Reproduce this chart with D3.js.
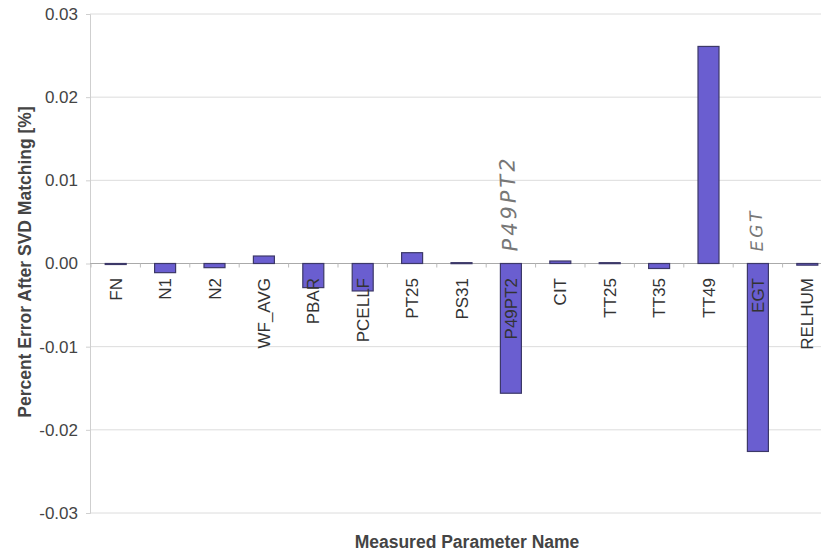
<!DOCTYPE html>
<html><head><meta charset="utf-8">
<script src="https://cdn.jsdelivr.net/npm/d3@7"></script>
<style>body{margin:0;background:#fff}svg{display:block}</style>
</head><body><svg id="c" width="821" height="554"></svg>
<script>
const categories = ["FN","N1","N2","WF_AVG","PBAR","PCELLF","PT25","PS31","P49PT2","CIT","TT25","TT35","TT49","EGT","RELHUM"];
const values = [-0.00005,-0.0011,-0.0005,0.0009,-0.0029,-0.0033,0.0013,0.0001,-0.0156,0.0003,0.0001,-0.0006,0.0261,-0.0226,-0.0002];
const yTicks = [-0.03,-0.02,-0.01,0,0.01,0.02,0.03];
const annotations = [{cat:"P49PT2", text:"P49PT2"},{cat:"EGT", text:"EGT"}];

const svg = d3.select("#c");
const x = d3.scaleBand().domain(categories).range([91, 832]).paddingInner(0.575).paddingOuter(0.2875);
const y = d3.scaleLinear().domain([-0.03, 0.03]).range([513, 14]);
const font = "'Liberation Sans', Arial, sans-serif";
const fmt = d => d3.format(".2f")(d).replace("\u2212", "-");

// gridlines
svg.append("g").selectAll("line").data(yTicks).join("line")
  .attr("x1", 90).attr("x2", 821).attr("y1", d => y(d)).attr("y2", d => y(d))
  .attr("stroke", "#dcdcdc").attr("stroke-width", 1);
// left axis
const ya = svg.append("g").attr("transform", "translate(90,0)")
  .call(d3.axisLeft(y).tickValues(yTicks).tickFormat(fmt).tickSize(4).tickPadding(8));
ya.select(".domain").attr("stroke", "#cfcfcf");
ya.selectAll(".tick line").attr("stroke", "#cfcfcf");
ya.selectAll("text").attr("font-family", font).attr("font-size", 17).attr("fill", "#444");

// zero axis with boundary ticks
const xa = svg.append("g").attr("transform", `translate(0,${y(0)})`);
xa.append("line").attr("x1", 90).attr("x2", 821).attr("stroke", "#aaa");
xa.selectAll(".bt").data(categories).join("line").attr("class","bt")
  .attr("x1", d => x(d) - x.step()*x.paddingInner()/2).attr("x2", d => x(d) - x.step()*x.paddingInner()/2)
  .attr("y1", 0).attr("y2", 4).attr("stroke", "#bbb");

// bars
svg.append("g").selectAll("rect").data(categories).join("rect")
  .attr("x", d => x(d)).attr("width", x.bandwidth())
  .attr("y", (d,i) => y(Math.max(0, values[i])))
  .attr("height", (d,i) => Math.max(1, Math.abs(y(values[i]) - y(0))))
  .attr("fill", "#6a5ed0").attr("stroke", "#3c3868").attr("stroke-width", 1.2);

// category labels
svg.append("g").selectAll("text").data(categories).join("text")
  .attr("transform", d => `translate(${x(d) + x.bandwidth()/2},278) rotate(-90)`)
  .attr("text-anchor", "end").attr("dy", "0.36em")
  .attr("font-family", font).attr("font-size", 17).attr("fill", "#333").text(d => d);

// handwritten annotations
svg.append("g").selectAll("text").data(annotations).join("text")
  .attr("transform", d => `translate(${x(d.cat) + x.bandwidth()/2 - 1},${y(0) - 12}) rotate(-92)`)
  .attr("text-anchor", "start").attr("dy", "0.36em")
  .attr("font-family", "'DejaVu Sans', sans-serif").attr("font-weight", 200)
  .attr("font-style", "italic").attr("font-size", d => d.cat === "EGT" ? 17 : 21)
  .attr("letter-spacing", 3).attr("fill", "#777").text(d => d.text);

// axis titles
svg.append("text").attr("transform", "translate(31,262) rotate(-90)").attr("text-anchor", "middle")
  .attr("font-family", font).attr("font-weight", "bold").attr("font-size", 17.5).attr("fill", "#444")
  .text("Percent Error After SVD Matching [%]");
svg.append("text").attr("x", 467).attr("y", 548).attr("text-anchor", "middle")
  .attr("font-family", font).attr("font-weight", "bold").attr("font-size", 17.5).attr("fill", "#444")
  .text("Measured Parameter Name");
</script></body></html>
